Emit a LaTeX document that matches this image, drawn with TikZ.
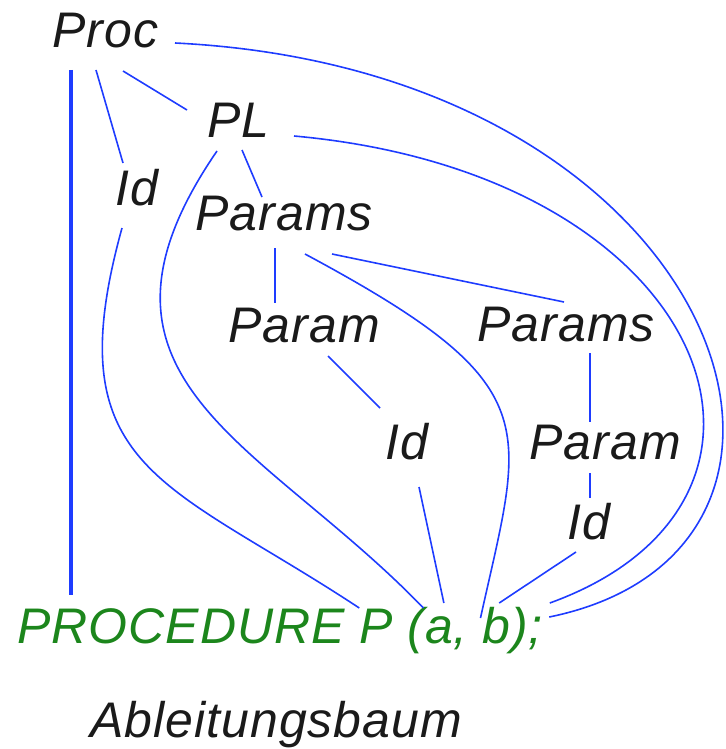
\documentclass[tikz,border=0pt]{standalone}
\usepackage{fontspec}
\newfontfamily\ptfont{Liberation Sans}[LetterSpace=2.0]
\usepackage{xcolor}
\usepackage{tikz}
\usetikzlibrary{positioning}
\definecolor{ptInk}{HTML}{1A1A1A}
\definecolor{ptBlue}{HTML}{1E3CFF}
\definecolor{ptGreen}{HTML}{1C861C}
\tikzset{
  pt diagram/.style={x=0.5pt, y=-0.5pt,
    font=\ptfont\fontsize{25}{30}\selectfont\itshape, text=ptInk},
  pt label/.style={anchor=base west, inner sep=0pt},
  pt code/.style={pt label, text=ptGreen},
  pt edge/.style={draw=ptBlue, line width=0.8pt},
  pt spine/.style={pt edge, line width=2.2pt}
}

\begin{document}
\begin{tikzpicture}[pt diagram]
\useasboundingbox (0,0) rectangle (726,749);
% tree nodes
\node[pt label] (proc) at (52,48) {Proc};
\node[pt label] (pl) at (207,138) {PL};
\node[pt label] (idA) at (115,205) {Id};
\node[pt label] (paramsA) at (195,230) {Params};
\node[pt label] (paramA) at (228,342) {Param};
\node[pt label] (paramsB) at (477,341) {Params};
\node[pt label] (idB) at (385,459) {Id};
\node[pt label] (paramB) at (529,459) {Param};
\node[pt label] (idC) at (567,539) {Id};
% source line, one node per token
\node[pt code] (kw) at (17,643) {PROCEDURE};
\node[pt code, right=7pt of kw.base east, anchor=base west] (pn) {P};
\node[pt code, right=7pt of pn.base east, anchor=base west] (lp) {(};
\node[pt code, right=0pt of lp.base east, anchor=base west] (pa) {a};
\node[pt code, right=0pt of pa.base east, anchor=base west] (cm) {,};
\node[pt code, right=7pt of cm.base east, anchor=base west] (pb) {b};
\node[pt code, right=0pt of pb.base east, anchor=base west] (rp) {)};
\node[pt code, right=0pt of rp.base east, anchor=base west] (sc) {;};
\node[pt label] (caption) at (90,737) {Ableitungsbaum};
% tree edges
\draw[pt spine] ([shift={(19,22)}]proc.base west) -- ([shift={(54,-48)}]kw.base west);
\draw[pt edge] ([shift={(44,22)}]proc.base west) -- ([shift={(8,-42)}]idA.base west);
\draw[pt edge] ([shift={(71,23)}]proc.base west) -- ([shift={(-20,-28)}]pl.base west);
\draw[pt edge] ([shift={(35,12)}]pl.base west) -- ([shift={(67,-33)}]paramsA.base west);
\draw[pt edge] ([shift={(80,18)}]paramsA.base west) -- ([shift={(47,-39)}]paramA.base west);
\draw[pt edge] ([shift={(137,24)}]paramsA.base west) -- ([shift={(87,-39)}]paramsB.base west);
\draw[pt edge] ([shift={(100,14)}]paramA.base west) -- ([shift={(-5,-51)}]idB.base west);
\draw[pt edge] ([shift={(113,12)}]paramsB.base west) -- ([shift={(61,-37)}]paramB.base west);
\draw[pt edge] ([shift={(61,14)}]paramB.base west) -- ([shift={(23,-41)}]idC.base west);
% leaves down to the tokens
\draw[pt edge] ([shift={(34,28)}]idB.base west) -- ([shift={(19,-40)}]pa.base west);
\draw[pt edge] ([shift={(9,13)}]idC.base west) -- ([shift={(17,-40)}]pb.base west);
\draw[pt edge] ([shift={(7,23)}]idA.base west)
  .. controls +(-67,242) and +(-194,-128) .. ([shift={(0,-35)}]pn.base west);
\draw[pt edge] ([shift={(10,13)}]pl.base west)
  .. controls +(-157,229) and +(-162,-168) .. ([shift={(16,-35)}]lp.base west);
\draw[pt edge] ([shift={(110,24)}]paramsA.base west)
  .. controls +(246,132) and +(43,-195) .. ([shift={(27,-25)}]cm.base west);
\draw[pt edge] ([shift={(87,-2)}]pl.base west)
  .. controls +(420,38) and +(282,-102) .. ([shift={(39,-40)}]rp.base west);
\draw[pt edge] ([shift={(123,-5)}]proc.base west)
  .. controls +(550,27) and +(333,-68) .. ([shift={(21,-26)}]sc.base west);
\end{tikzpicture}
\end{document}
